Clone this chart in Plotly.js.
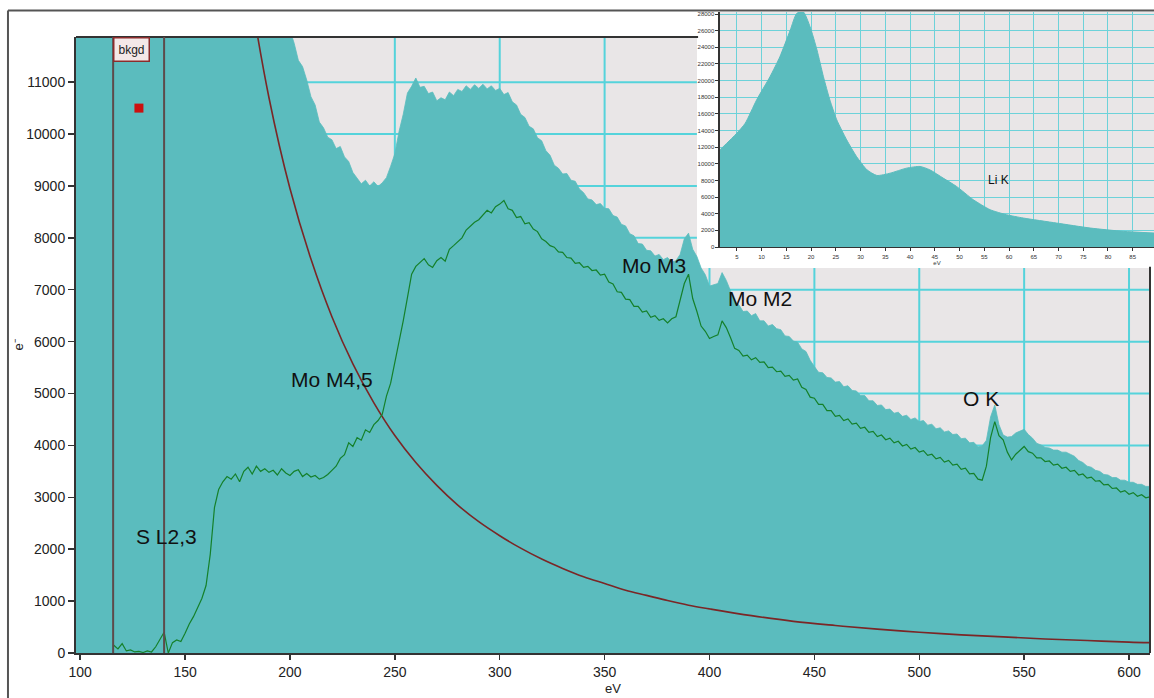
<!DOCTYPE html>
<html>
<head>
<meta charset="utf-8">
<script src="https://cdn.plot.ly/plotly-3.0.1.min.js"></script>
<style>html,body{margin:0;padding:0;background:#fff;}#chart{width:1154px;height:698px;}</style>
</head>
<body>
<div id="chart"></div>
<script>
// ---- main core-loss spectrum (energy loss, eV) ----
const energy = [
  98,100,102,104,106,108,110,112,114,116,118,120,122,124,126,128,130,132,134,136,138,140,142,144,146,148,150,152,154,156,158,160,162,164,166,168,170,172,174,176,178,180,182,184,186,188,190,192,194,196,198,
  200,202,204,206,208,210,212,214,216,218,220,222,224,226,228,230,232,234,236,238,240,242,244,246,248,250,252,254,256,258,260,262,264,266,268,270,272,274,276,278,280,282,284,286,288,290,292,294,296,298,
  300,302,304,306,308,310,312,314,316,318,320,322,324,326,328,330,332,334,336,338,340,342,344,346,348,350,352,354,356,358,360,362,364,366,368,370,372,374,376,378,380,382,384,386,388,390,392,394,396,398,
  400,402,404,406,408,410,412,414,416,418,420,422,424,426,428,430,432,434,436,438,440,442,444,446,448,450,452,454,456,458,460,462,464,466,468,470,472,474,476,478,480,482,484,486,488,490,492,494,496,498,
  500,502,504,506,508,510,512,514,516,518,520,522,524,526,528,530,532,534,536,538,540,542,544,546,548,550,552,554,556,558,560,562,564,566,568,570,572,574,576,578,580,582,584,586,588,590,592,594,596,598,
  600,602,604,606,608,610
];
// raw spectrum (teal, filled)
const rawCounts = [
  60000,57000,54000,51500,49000,46800,44600,42600,40700,38900,37200,35600,34100,32700,31400,30200,29000,27900,26900,25900,25000,24100,23300,22500,21800,21100,20400,19800,19200,18600,18100,17600,17100,16700,16300,15900,15500,15100,14800,14500,14200,13900,13600,13300,13050,12800,12600,12450,12300,12150,12050,
  12000,11750,11420,11300,11040,10720,10560,10230,10120,9940,9890,9720,9760,9560,9470,9260,9150,9040,9110,9000,9080,8990,9060,9160,9380,9620,10050,10380,10790,10920,11080,10900,10920,10780,10810,10640,10700,10660,10810,10740,10860,10820,10930,10860,10950,10880,10960,10870,10930,10840,
  10880,10760,10800,10620,10560,10380,10320,10150,10100,9930,9870,9680,9590,9400,9340,9230,9240,9110,9090,8940,8870,8750,8730,8640,8660,8570,8560,8430,8400,8260,8230,8080,8040,7890,7880,7760,7750,7650,7680,7580,7620,7530,7560,7680,7980,8090,7780,7640,7420,7290,
  7070,7090,7120,7330,7180,6980,6770,6710,6580,6590,6500,6540,6400,6400,6300,6330,6250,6230,6110,6100,6010,5990,5860,5810,5640,5520,5410,5400,5310,5300,5220,5230,5130,5150,5060,5050,4960,4960,4860,4860,4770,4780,4690,4700,4620,4640,4560,4580,4500,4530,
  4460,4480,4390,4410,4320,4340,4260,4280,4210,4220,4130,4140,4050,4060,3970,3990,4100,4550,4780,4400,4200,4160,4170,4240,4270,4310,4210,4140,4040,4010,3960,3950,3910,3910,3870,3870,3830,3790,3710,3670,3600,3580,3520,3500,3440,3430,3380,3380,3330,3330,
  3290,3290,3250,3250,3210,3210
];
// background-subtracted signal (green line)
const signalCounts = [
  null,null,null,null,null,null,null,null,null,150,80,180,40,60,20,30,10,40,20,120,250,400,0,200,250,220,380,560,700,880,1050,1300,1900,2800,3150,3300,3400,3350,3450,3300,3500,3580,3450,3600,3500,3550,3480,3520,3430,3550,3470,
  3420,3500,3530,3400,3460,3390,3420,3350,3380,3440,3520,3600,3750,3820,4050,3980,4150,4100,4300,4250,4400,4480,4600,4950,5200,5600,5950,6400,6850,7300,7450,7520,7600,7480,7430,7560,7620,7550,7780,7850,7920,8000,8150,8230,8300,8350,8450,8530,8480,8600,
  8650,8720,8560,8530,8390,8410,8270,8290,8170,8120,7980,7930,7850,7820,7730,7720,7620,7610,7510,7520,7430,7450,7370,7380,7280,7300,7150,7110,6960,6950,6820,6810,6680,6680,6570,6590,6470,6500,6410,6440,6360,6440,6480,6820,7120,7300,6830,6580,6300,6200,
  6060,6100,6130,6400,6270,6080,5870,5830,5720,5740,5650,5690,5600,5610,5500,5510,5420,5430,5330,5350,5260,5280,5120,5080,4930,4910,4790,4790,4670,4670,4560,4580,4480,4510,4410,4430,4330,4350,4250,4270,4170,4200,4110,4140,4050,4080,3990,4020,3930,3960,
  3870,3900,3810,3830,3740,3770,3680,3710,3620,3640,3540,3560,3450,3460,3350,3330,3600,4150,4460,4190,4110,3870,3720,3830,3910,3980,3880,3850,3760,3760,3690,3700,3620,3640,3560,3580,3500,3520,3430,3450,3370,3390,3310,3320,3240,3250,3170,3180,3100,3130,
  3060,3090,3020,3050,2990,3010
];
// power-law background fit (red curve)
const fitEnergy = [175,180,190,200,210,220,230,240,250,260,270,280,290,300,310,320,330,340,350,360,370,380,390,400,420,440,460,480,500,520,540,560,580,600,610];
const fitCounts = [14400,13000,10700,8950,7590,6480,5570,4820,4190,3670,3230,2850,2530,2260,2020,1810,1630,1470,1340,1210,1110,1010,920,850,720,610,530,460,400,350,310,270,240,210,200];
// background window and its marker
const bkgdWindow = [115.7, 140];
const markerE = [128];
const markerCounts = [10500];
// edge labels
const edgeLabels = ["S L2,3", "Mo M4,5", "Mo M3", "Mo M2", "O K"];
const edgeLabelE = [141.2, 220.1, 373.6, 423.9, 529.5];
const edgeLabelCounts = [2254, 5278, 7475, 6839, 4912];
// main axes ticks / grid
const xTickVals = [100,150,200,250,300,350,400,450,500,550,600];
const yTickVals = [1000,2000,3000,4000,5000,6000,7000,8000,9000,10000,11000];

// ---- inset: low-loss spectrum ----
const lowLossE = [1.6,5.0,6.7,9.0,11.7,13.7,15.8,17.1,18.4,19.8,21.2,22.5,23.8,25.2,27.2,29.2,31.3,33.3,36.0,39.3,42.0,44.0,46.7,49.4,52.8,56.2,59.5,62.9,69.6,76.4,83.1,89.3];
const lowLossCounts = [11680,13680,14880,17680,20470,22870,26080,28080,28300,26470,23680,20470,17680,15280,12880,10870,9280,8600,8880,9480,9680,9280,8280,7280,5680,4480,3880,3480,2880,2280,1880,1680];
const insetLabel = "Li K";
const insetLabelE = 57.8;
const insetLabelCounts = 8076;

// ---- geometry / styles ----
const FONT = "Liberation Sans, Arial, sans-serif";
const TEAL = "#5bbcbe";
const GRID = "#55d3db";
const AXIS = "#333333";
const MAIN_TOP = 0.961;        // main plot top (paper)
const MAIN_RIGHT = 0.99629;    // main plot right (paper)
const INSET_BOX_X = 0.57607;   // white inset panel left (paper)
const INSET_BOX_Y = 0.60062;   // white inset panel bottom (paper)
const HIDDEN_Y = 7419;         // data y at inset panel bottom
const HIDDEN_X = 394.0;        // data x at inset panel left

const traces = [
  {x: energy, y: rawCounts, type: "scatter", mode: "lines", fill: "tozeroy",
   fillcolor: TEAL, line: {color: TEAL, width: 0.8}, xaxis: "x", yaxis: "y", hoverinfo: "skip"},
  {x: fitEnergy, y: fitCounts, type: "scatter", mode: "lines", line: {color: "#7b2626", width: 1.6, shape: "spline"},
   xaxis: "x", yaxis: "y", hoverinfo: "skip"},
  {x: energy, y: signalCounts, type: "scatter", mode: "lines", line: {color: "#15802a", width: 1.2},
   connectgaps: false, xaxis: "x", yaxis: "y", hoverinfo: "skip"},
  {x: markerE, y: markerCounts, type: "scatter", mode: "markers",
   marker: {symbol: "square", size: 9, color: "#cc1010"}, xaxis: "x", yaxis: "y", hoverinfo: "skip"},
  {x: lowLossE, y: lowLossCounts, type: "scatter", mode: "lines", fill: "tozeroy",
   fillcolor: TEAL, line: {color: TEAL, width: 1, shape: "spline", smoothing: 0.6}, xaxis: "x2", yaxis: "y2", hoverinfo: "skip"}
];

const shapes = [];
// white panel behind the inset
shapes.push({type: "rect", xref: "paper", yref: "paper", x0: INSET_BOX_X, x1: 1.02, y0: INSET_BOX_Y, y1: 1.0,
  fillcolor: "#ffffff", line: {width: 0}, layer: "below"});
// main grid lines, stopping at the inset panel
xTickVals.forEach(v => {
  shapes.push({type: "line", xref: "x", yref: "y", x0: v, x1: v, y0: 0, y1: (v >= HIDDEN_X ? HIDDEN_Y : 11870),
    line: {color: GRID, width: 2}, layer: "below"});
});
yTickVals.forEach(v => {
  shapes.push({type: "line", xref: "x", yref: "y", y0: v, y1: v, x0: 98, x1: (v >= HIDDEN_Y ? HIDDEN_X : 610),
    line: {color: GRID, width: 2}, layer: "below"});
});
// main plot borders (top and right, only where not covered by inset)
shapes.push({type: "line", xref: "paper", yref: "paper", x0: 0, x1: INSET_BOX_X + 0.001, y0: MAIN_TOP, y1: MAIN_TOP,
  line: {color: AXIS, width: 2}, layer: "above"});
shapes.push({type: "line", xref: "paper", yref: "paper", x0: MAIN_RIGHT, x1: MAIN_RIGHT, y0: 0, y1: INSET_BOX_Y + 0.002,
  line: {color: AXIS, width: 2}, layer: "above"});
// outer figure frame
shapes.push({type: "line", xref: "paper", yref: "paper", x0: -0.0631, x1: -0.0631, y0: -0.08, y1: 1.0025,
  line: {color: "#555555", width: 2}, layer: "above"});
shapes.push({type: "line", xref: "paper", yref: "paper", x0: -0.0631, x1: 1.02, y0: 1.0025, y1: 1.0025,
  line: {color: "#555555", width: 2}, layer: "above"});
// background window lines
bkgdWindow.forEach(v => {
  shapes.push({type: "line", xref: "x", yref: "paper", x0: v, x1: v, y0: 0, y1: MAIN_TOP,
    line: {color: "#5d4b4b", width: 2}, layer: "above"});
});

const annotations = [];
annotations.push({xref: "x", yref: "paper", x: bkgdWindow[0], y: MAIN_TOP, xanchor: "left", yanchor: "top",
  text: "bkgd", showarrow: false, font: {family: FONT, size: 12, color: "#222"},
  bgcolor: "#f4e8e8", bordercolor: "#8b2c2c", borderwidth: 1.5, borderpad: 4});
edgeLabels.forEach((t, i) => {
  annotations.push({xref: "x", yref: "y", x: edgeLabelE[i], y: edgeLabelCounts[i], text: t, showarrow: false,
    xanchor: "center", yanchor: "middle", font: {family: FONT, size: 21, color: "#111"}});
});
annotations.push({xref: "x2", yref: "y2", x: insetLabelE, y: insetLabelCounts, text: insetLabel, showarrow: false,
  xanchor: "center", yanchor: "middle", font: {family: FONT, size: 12, color: "#111"}});

const layout = {
  width: 1154, height: 698,
  margin: {l: 76, r: 0, t: 12, b: 45, pad: 0},
  paper_bgcolor: "#ffffff",
  plot_bgcolor: "#e9e6e7",
  showlegend: false,
  font: {family: FONT, color: "#222"},
  xaxis: {
    domain: [0, MAIN_RIGHT], range: [98, 610], anchor: "y",
    tickmode: "array", tickvals: xTickVals,
    showgrid: false, zeroline: false, showline: true, linecolor: AXIS, linewidth: 2,
    ticks: "outside", ticklen: 5, tickwidth: 1.5, tickcolor: AXIS,
    tickfont: {family: FONT, size: 14, color: "#222"},
    title: {text: "eV", font: {family: FONT, size: 13, color: "#222"}, standoff: 5}
  },
  yaxis: {
    domain: [0, MAIN_TOP], range: [0, 11870], anchor: "x",
    tickmode: "linear", tick0: 0, dtick: 1000, tickformat: "d",
    showgrid: false, zeroline: false, showline: true, linecolor: AXIS, linewidth: 2,
    ticks: "outside", ticklen: 6, tickwidth: 1.5, tickcolor: AXIS,
    tickfont: {family: FONT, size: 14, color: "#222"},
    title: {text: "e⁻", font: {family: FONT, size: 13, color: "#222"}, standoff: 0}
  },
  xaxis2: {
    domain: [0.5974, 1], range: [1.6, 89.3], anchor: "y2",
    tickmode: "linear", tick0: 0, dtick: 5,
    showgrid: true, gridcolor: "#6dd2d9", gridwidth: 1, zeroline: false,
    showline: true, linecolor: AXIS, linewidth: 1.5,
    ticks: "outside", ticklen: 3, tickwidth: 1, tickcolor: AXIS,
    tickfont: {family: FONT, size: 6, color: "#333"},
    title: {text: "eV", font: {family: FONT, size: 6, color: "#333"}, standoff: 0}
  },
  yaxis2: {
    domain: [0.63339, 1], range: [0, 28250], anchor: "x2",
    tickmode: "linear", tick0: 0, dtick: 2000, tickformat: "d",
    showgrid: true, gridcolor: "#6dd2d9", gridwidth: 1, zeroline: false,
    showline: true, linecolor: AXIS, linewidth: 1.5,
    ticks: "outside", ticklen: 3, tickwidth: 1, tickcolor: AXIS,
    tickfont: {family: FONT, size: 6, color: "#333"}
  },
  shapes: shapes,
  annotations: annotations
};

Plotly.newPlot("chart", traces, layout, {displayModeBar: false, staticPlot: true});
</script>
</body>
</html>
